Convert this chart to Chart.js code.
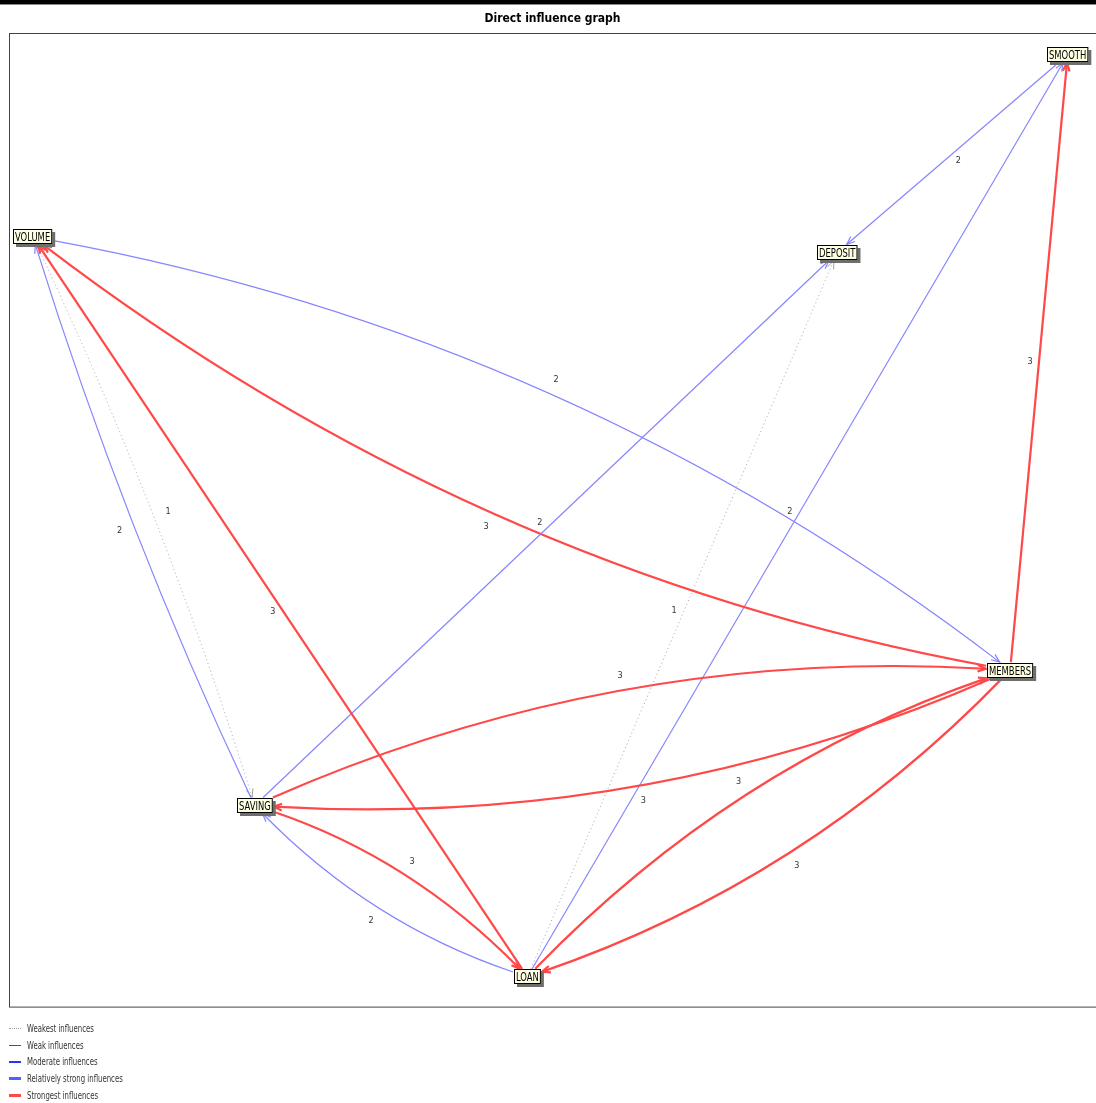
<!DOCTYPE html>
<html>
<head>
<meta charset="utf-8">
<script src="https://cdn.jsdelivr.net/npm/chart.js@4.4.1/dist/chart.umd.min.js"></script>
<style>
html, body { margin: 0; padding: 0; background: #fff; overflow: hidden; }
#topbar { position: absolute; left: 0; top: 0; width: 1096px; height: 4px; background: #000; border-bottom: 1px solid #888; z-index: 2; }
#wrap { position: absolute; left: 0; top: 0; width: 1100px; height: 1103px; }
#legend { position: absolute; left: 9px; top: 1020px; font: 11px "Liberation Sans Narrow", "DejaVu Sans Condensed", sans-serif; color: #333; }
.row { height: 16.8px; display: flex; align-items: center; white-space: nowrap; }
.sw { width: 12px; margin-right: 6px; flex: none; }
.txt { display: inline-block; transform: scaleX(0.7); transform-origin: left center; }
</style>
</head>
<body>
<div id="topbar"></div>
<div id="wrap"><canvas id="graph" width="1100" height="1103"></canvas></div>
<div id="legend"></div>
<script>
// nodes (MICMAC layout coordinates, 0..100)
const nodes = ['VOLUME', 'DEPOSIT', 'SMOOTH', 'MEMBERS', 'SAVING', 'LOAN'];
const nodeX = [2.2, 76.2, 97.4, 92.1, 22.6, 47.7];
const nodeY = [79.1, 77.5, 97.8, 34.6, 20.7, 3.1];

// direct influences
const edgeFrom  = ['SMOOTH', 'LOAN', 'MEMBERS', 'VOLUME', 'MEMBERS', 'SAVING', 'LOAN', 'VOLUME', 'SAVING', 'LOAN', 'SAVING', 'MEMBERS', 'LOAN', 'MEMBERS', 'SAVING', 'LOAN'];
const edgeTo    = ['DEPOSIT', 'SMOOTH', 'SMOOTH', 'MEMBERS', 'VOLUME', 'DEPOSIT', 'DEPOSIT', 'SAVING', 'VOLUME', 'VOLUME', 'MEMBERS', 'SAVING', 'MEMBERS', 'LOAN', 'LOAN', 'SAVING'];
const edgeValue = [2, 2, 3, 2, 3, 2, 1, 1, 2, 3, 3, 3, 3, 3, 3, 2];

const influenceLevels = ['Weakest influences', 'Weak influences', 'Moderate influences', 'Relatively strong influences', 'Strongest influences'];

const narrow = '"Liberation Sans Narrow", "DejaVu Sans Condensed", sans-serif';
const levelStyles = [
    { color: '#a0a0a0', width: 1, dash: [1, 3] },
    { color: '#555555', width: 1, dash: [] },
    { color: '#8585ff', width: 1.2, dash: [] },
    { color: '#5a5aff', width: 3, dash: [] },
    { color: '#ff4848', width: 2.2, dash: [] }
];
const levelOfValue = { 1: 0, 2: 2, 3: 4 };
const legendSwatch = [
    { border: '1px dotted #a0a0a0' },
    { h: 1, bg: '#555555' },
    { h: 1.5, bg: '#2f2fff' },
    { h: 3, bg: '#5a5aff' },
    { h: 3, bg: '#ff4848' }
];

// legend
const legend = document.getElementById('legend');
influenceLevels.forEach((name, i) => {
    const s = legendSwatch[i];
    const row = document.createElement('div');
    row.className = 'row';
    const sw = document.createElement('span');
    sw.className = 'sw';
    if (s.border) {
        sw.style.borderTop = s.border;
    } else {
        sw.style.height = s.h + 'px';
        sw.style.background = s.bg;
    }
    const tx = document.createElement('span');
    tx.className = 'txt';
    tx.textContent = name;
    row.appendChild(sw);
    row.appendChild(tx);
    legend.appendChild(row);
});

const influenceGraph = {
    id: 'influenceGraph',
    afterDatasetsDraw(chart, args, o) {
        const { ctx, chartArea: a } = chart;
        const sx = chart.scales.x, sy = chart.scales.y;
        ctx.save();
        ctx.lineWidth = 1;
        ctx.strokeStyle = '#444';
        ctx.strokeRect(Math.round(a.left) + 0.5, Math.round(a.top) + 0.5, a.right - a.left + 10, a.bottom - a.top);

        ctx.font = '12px ' + narrow;
        const box = {};
        nodes.forEach((n, i) => {
            const tw = ctx.measureText(n).width * o.squeeze;
            box[n] = { x: sx.getPixelForValue(nodeX[i]), y: sy.getPixelForValue(nodeY[i]), tw: tw, hw: tw / 2 + 3, hh: 8 };
        });

        const clip = (b, tx, ty) => {
            const dx = tx - b.x, dy = ty - b.y, len = Math.hypot(dx, dy);
            const ux = dx / len, uy = dy / len;
            const t = Math.min(ux ? b.hw / Math.abs(ux) : 1e9, uy ? b.hh / Math.abs(uy) : 1e9);
            return [b.x + ux * t, b.y + uy * t];
        };

        edgeFrom.forEach((f, k) => {
            const t = edgeTo[k];
            const A = box[f], B = box[t];
            const st = levelStyles[levelOfValue[edgeValue[k]]];
            const dx = B.x - A.x, dy = B.y - A.y, len = Math.hypot(dx, dy);
            const nx = dy / len, ny = -dx / len;
            const twoWay = edgeFrom.some((g, j) => g === t && edgeTo[j] === f);
            const bend = twoWay ? (o.bendPair[f + '|' + t] ?? o.bend) : 0;
            const cx = (A.x + B.x) / 2 + nx * bend * len, cy = (A.y + B.y) / 2 + ny * bend * len;
            const p0 = clip(A, cx, cy), p2 = clip(B, cx, cy);

            ctx.strokeStyle = st.color;
            ctx.lineWidth = st.width;
            ctx.setLineDash(st.dash);
            ctx.beginPath();
            ctx.moveTo(p0[0], p0[1]);
            ctx.quadraticCurveTo(cx, cy, p2[0], p2[1]);
            ctx.stroke();

            ctx.setLineDash([]);
            const ang = Math.atan2(p2[1] - cy, p2[0] - cx);
            const al = o.arrow;
            ctx.beginPath();
            ctx.moveTo(p2[0] - al * Math.cos(ang - 0.38), p2[1] - al * Math.sin(ang - 0.38));
            ctx.lineTo(p2[0], p2[1]);
            ctx.lineTo(p2[0] - al * Math.cos(ang + 0.38), p2[1] - al * Math.sin(ang + 0.38));
            ctx.stroke();

            const gap = bend ? o.labelGapCurve : o.labelGap;
            const mx = 0.25 * p0[0] + 0.5 * cx + 0.25 * p2[0] + nx * gap;
            const my = 0.25 * p0[1] + 0.5 * cy + 0.25 * p2[1] + ny * gap;
            ctx.font = '9px ' + narrow;
            ctx.fillStyle = '#333';
            ctx.textAlign = 'center';
            ctx.textBaseline = 'middle';
            ctx.fillText(String(edgeValue[k]), mx, my);
        });

        ctx.font = '12px ' + narrow;
        nodes.forEach(n => {
            const b = box[n];
            const w = b.tw + 4, h = 15;
            const x0 = Math.round(b.x - w / 2), y0 = Math.round(b.y - h / 2);
            ctx.fillStyle = '#6e6e6e';
            ctx.fillRect(x0 + 3, y0 + 3, w, h);
            ctx.fillStyle = '#ffffe4';
            ctx.fillRect(x0, y0, w, h);
            ctx.strokeStyle = '#000';
            ctx.lineWidth = 1;
            ctx.strokeRect(x0 + 0.5, y0 + 0.5, w - 1, h - 1);
            ctx.fillStyle = '#000';
            ctx.textAlign = 'center';
            ctx.textBaseline = 'middle';
            ctx.fillText(n, x0 + w / 2, y0 + h / 2 + 1, b.tw);
        });
        ctx.restore();
    }
};

new Chart(document.getElementById('graph'), {
    type: 'scatter',
    data: {
        datasets: [{
            label: 'variables',
            data: nodes.map((n, i) => ({ x: nodeX[i], y: nodeY[i] })),
            pointRadius: 0
        }]
    },
    options: {
        responsive: false,
        animation: false,
        layout: { padding: { left: 9, right: 4, top: 0, bottom: 96 } },
        scales: {
            x: { type: 'linear', min: 0, max: 100, display: false },
            y: { type: 'linear', min: 0, max: 100, display: false }
        },
        plugins: {
            legend: { display: false },
            tooltip: { enabled: false },
            title: {
                display: true,
                text: 'Direct influence graph',
                color: '#000',
                font: { family: narrow, size: 12, weight: 'bold' },
                padding: { top: 12, bottom: 7 }
            },
            influenceGraph: { squeeze: 0.78, bend: 0.12, bendPair: { 'VOLUME|SAVING': 0.035, 'SAVING|VOLUME': 0.035 }, arrow: 9, labelGap: 9, labelGapCurve: 15 }
        }
    },
    plugins: [influenceGraph]
});
</script>
</body>
</html>
